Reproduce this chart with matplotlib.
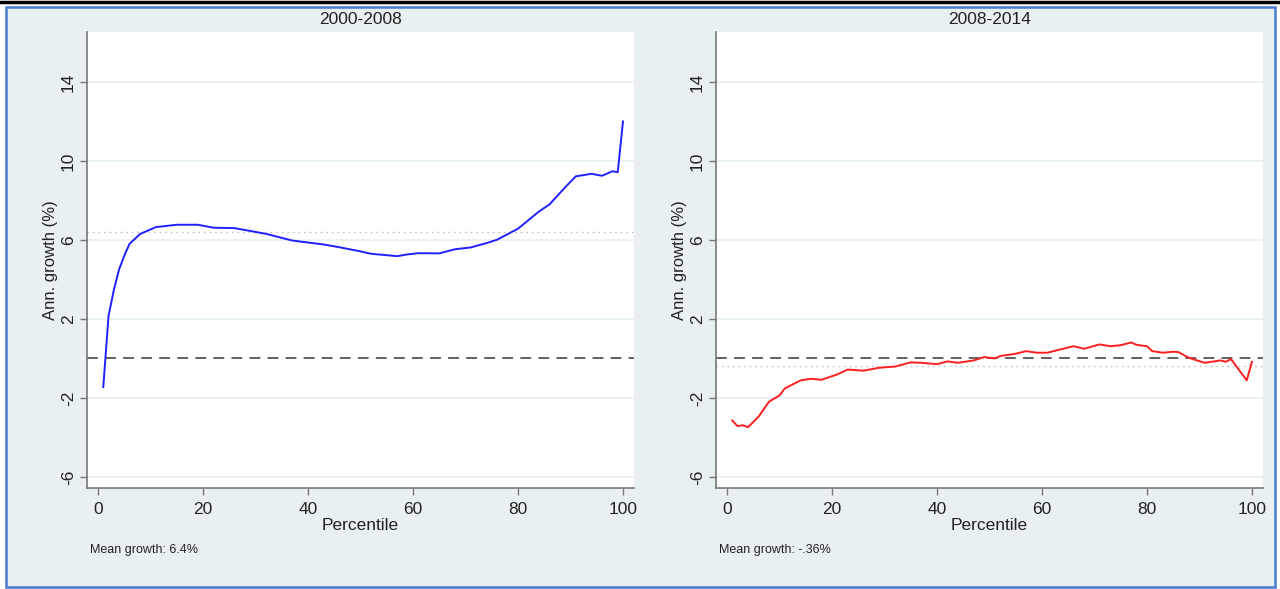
import matplotlib.pyplot as plt
from matplotlib.patches import Rectangle
from matplotlib.lines import Line2D

plt.rcParams['font.family'] = ['Liberation Sans', 'DejaVu Sans']

# 2000-2008 growth incidence curve
pct_a = [1, 2, 3, 4, 5, 6, 8, 11, 15, 19, 22, 26, 32, 37, 43, 46, 50, 52, 57, 59,
         61, 65, 68, 71, 74, 76, 80, 84, 86, 89, 91, 94, 96, 98, 99, 100]
growth_a = [-1.45, 2.15, 3.45, 4.5, 5.2, 5.8, 6.3, 6.65, 6.77, 6.77, 6.62, 6.6, 6.31,
            5.97, 5.77, 5.63, 5.42, 5.3, 5.18, 5.27, 5.33, 5.32, 5.53, 5.62, 5.84,
            6.01, 6.57, 7.44, 7.8, 8.67, 9.22, 9.35, 9.25, 9.48, 9.43, 12.0]
mean_a = 6.4

# 2008-2014 growth incidence curve
pct_b = [1, 2, 3, 4, 5, 6, 8, 10, 11, 14, 16, 18, 21, 23, 26, 29, 32, 35, 37, 40,
         42, 44, 47, 49, 51, 52, 55, 57, 59, 61, 64, 66, 68, 71, 73, 75, 77, 78,
         80, 81, 83, 85, 86, 88, 90, 91, 94, 95, 96, 99, 100]
growth_b = [-3.14, -3.43, -3.38, -3.48, -3.22, -2.95, -2.19, -1.87, -1.52, -1.11,
            -1.03, -1.08, -0.81, -0.56, -0.62, -0.47, -0.41, -0.2, -0.22, -0.29,
            -0.15, -0.22, -0.1, 0.07, 0.0, 0.12, 0.24, 0.37, 0.29, 0.29, 0.49,
            0.62, 0.49, 0.71, 0.62, 0.67, 0.81, 0.69, 0.62, 0.37, 0.29, 0.34, 0.32,
            0.03, -0.14, -0.22, -0.1, -0.17, -0.03, -1.11, -0.17]
mean_b = -0.36

panels = [
    ("2000-2008", pct_a, growth_a, mean_a, "#2020ff", "Mean growth: 6.4%"),
    ("2008-2014", pct_b, growth_b, mean_b, "#ff1f1f", "Mean growth: -.36%"),
]
yticks = [-6, -2, 2, 6, 10, 14]
xticks = [0, 20, 40, 60, 80, 100]

W, H = 1280, 589
fig = plt.figure(figsize=(12.8, 5.89), dpi=100, facecolor="white")
fig.patches.append(Rectangle((6 / W, 1 - 587 / H), 1269 / W, 580 / H,
                             transform=fig.transFigure, facecolor="#e9f0f2",
                             edgecolor="#4a7bd0", linewidth=1.8, zorder=-10))
fig.lines.append(Line2D([0, 1], [1 - 1.5 / H, 1 - 1.5 / H], transform=fig.transFigure,
                        color="black", linewidth=2.5))

lefts = [87, 716]
text_col = "#222222"
for (title, px, gy, mean, col, note), lx in zip(panels, lefts):
    ax = fig.add_axes([lx / W, 1 - 488 / H, 547 / W, 456 / H])
    ax.set_facecolor("white")
    ax.set_xlim(-2.1, 102.1)
    ax.set_ylim(-6.56, 16.53)
    for y in yticks:
        ax.axhline(y, color="#e8f0f1", linewidth=1.2, zorder=0)
    ax.axhline(mean, color="#b8b8b8", linewidth=1.0, linestyle=(0, (1, 3)), zorder=1)
    ax.axhline(0, color="#555555", linewidth=1.3, linestyle=(0, (6, 4)), zorder=2)
    ax.plot(px, gy, color=col, linewidth=1.4, zorder=3)

    ax.set_yticks(yticks)
    ax.set_yticklabels([str(v) for v in yticks], rotation=90, va="center")
    ax.set_xticks(xticks)
    ax.tick_params(axis="both", colors="#777777", labelcolor=text_col,
                   labelsize=12.5, length=5, width=1, direction="out", pad=3)
    ax.tick_params(axis="x", pad=5)
    for s in ["top", "right"]:
        ax.spines[s].set_visible(False)
    for s in ["left", "bottom"]:
        ax.spines[s].set_color("#777777")
        ax.spines[s].set_linewidth(1.2)

    ax.set_title(title, fontsize=12.5, color=text_col, pad=6)
    ax.set_xlabel("Percentile", fontsize=12.5, color=text_col, labelpad=1)
    ax.set_ylabel("Ann. growth (%)", fontsize=12, color=text_col, labelpad=2)
    ax.text(0.005, -0.135, note, transform=ax.transAxes, fontsize=9,
            color=text_col, ha="left", va="center")

fig.savefig("out.png", dpi=100, facecolor=fig.get_facecolor())
